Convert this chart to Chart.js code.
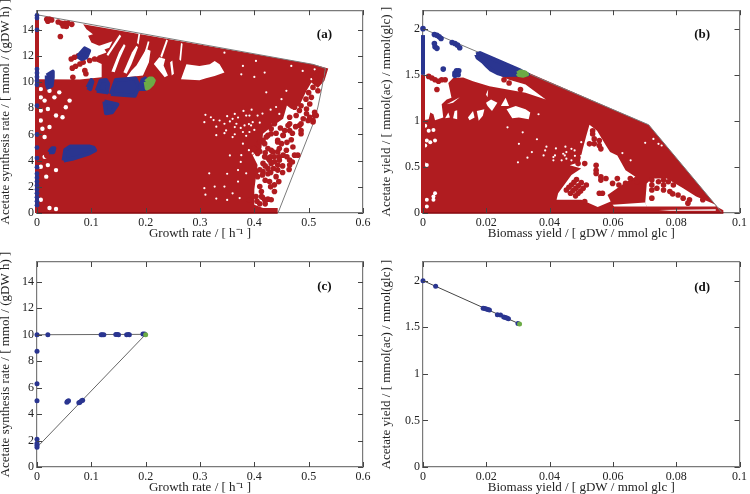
<!DOCTYPE html>
<html>
<head>
<meta charset="utf-8">
<style>
  body { margin: 0; background: #fff; }
  canvas { position: absolute; }
</style>
<script src="https://cdn.jsdelivr.net/npm/chart.js@4"></script>
</head>
<body>
<canvas id="a" width="375" height="247" style="left:0;top:0"></canvas>
<canvas id="b" width="375" height="247" style="left:375px;top:0"></canvas>
<canvas id="c" width="375" height="247" style="left:0;top:247px"></canvas>
<canvas id="d" width="375" height="247" style="left:375px;top:247px"></canvas>
<script>
// tick labels
const rateTicksX = [0, 0.1, 0.2, 0.3, 0.4, 0.5, 0.6];
const rateTicksY = [0, 2, 4, 6, 8, 10, 12, 14];
const yieldTicksX = [0, 0.02, 0.04, 0.06, 0.08, 0.1];
const yieldTicksY = [0, 0.5, 1, 1.5, 2];

// panel (a): growth rate vs acetate synthesis rate
const aEnvelope = [[0,15.15],[.508,11.36],[.531,11.05],[.523,9.3],[.517,8.1],[.508,6.8],[.4435,0]];
const aMass = [[0,0],[0,10.23],[.079,10.2],[.119,10.38],[.119,11.39],[.106,11.64],[.112,12.02],[.128,12.27],[.122,12.65],[.1,13.03],[.094,13.54],[.103,13.66],[.091,14.04],[.085,14.42],[.508,11.36],[.536,11.04],[.529,10.1],[.517,9.55],[.505,9.97],[.496,9.34],[.483,8.21],[.468,7.95],[.46,8.21],[.453,7.2],[.431,6.57],[.416,6.06],[.413,4.93],[.397,4.42],[.406,3.66],[.403,2.78],[.4,1.77],[.4,.63],[.416,.38],[.443,.38],[.443,0]];
const aHoles = [
  [[.151,12.28],[.16,12.91],[.163,12.78],[.152,11.77],[.143,10.76],[.137,10.81]],
  [[.175,12.28],[.183,12.78],[.186,12.66],[.174,11.39],[.165,10.64],[.159,10.76]],
  [[.183,11.27],[.201,12.53],[.209,12.4],[.206,11.52],[.195,10.51],[.165,10.38],[.174,10.89]],
  [[.215,11.39],[.225,11.9],[.236,11.77],[.233,11.27],[.241,10.51],[.235,10.38]],
  [[.245,11.52],[.249,11.65],[.252,10.64],[.248,10.51]],
  [[.265,10.23],[.275,11.36],[.299,11.24],[.318,11.36],[.327,11.62],[.336,11.36],[.345,10.73],[.327,10.48],[.311,10.3],[.299,10.15]],
  [[.187,13.76],[.19,13.71],[.187,12.88],[.184,13]],
  [[.204,13.13],[.207,13.08],[.2,12],[.197,12.12]],
  [[.265,13],[.268,12.93],[.265,11.62],[.262,11.74]],
  [[.238,13.26],[.241,13.18],[.23,11.87],[.227,12]],
  [[.112,12.75],[.139,13.13],[.133,12.63],[.115,12.37]],
  [[.152,13.64],[.155,13.51],[.131,12],[.128,12.12]]
];
const aLeftGaps = [[.007,9.47],[.007,8.84],[.023,9.34],[.014,8.59],[.032,8.84],[.041,9.22],[.06,8.59],[.053,8.08],[.02,7.95],[.035,7.45],[.007,7.83],[.047,7.32],[.007,7.07],[.01,6.44],[.023,6.57],[.014,5.81],[.007,3.54],[.02,3.66],[.014,4.29],[.035,3.28],[.023,.38],[.035,.3],[.007,1.01],[.017,2.78]];
const aGaps = [[.32,7.32],[.308,6.94],[.336,7.07],[.345,6.82],[.348,6.31],[.364,7.57],[.367,6.82],[.391,7.45],[.397,6.94],[.382,6.69],[.391,6.19],[.406,7.45],[.459,9.34],[.422,9.22],[.379,11.24],[.403,11.62],[.419,10.73],[.376,10.6],[.4,10.4],[.511,10.98],[.505,10.23],[.468,11.24],[.489,10.86],[.446,7.57],[.434,6.82],[.345,12.25],
  [.36,7.2],[.364,6.57],[.385,7.45],[.394,6.69],[.379,6.19],[.376,4.42],[.317,3.03],[.308,1.9],[.327,2.02],[.345,2.02],[.373,1.14],[.37,3.28],[.385,3.03],[.397,4.55],[.379,5.3],[.364,6.02],
  [.31,7.5],[.325,7.1],[.33,6.6],[.35,7.4],[.355,7],[.37,7.3],[.375,6.5],[.39,6.8],[.345,6.1],[.36,5.8],[.33,5.95],[.385,5.9],[.41,6.9],[.4,6.35],[.415,7.6],[.44,8.1],[.45,8.7],[.43,7.9],[.395,7.9],[.38,7.8],[.35,1],[.36,1.5],[.33,1.1],[.31,1.4],[.37,2.4],[.35,3],[.375,3.9],[.39,4.8],[.355,4.4]];
const aRedDots = [[.018,14.8],[.023,14.8],[.027,14.75],[.02,14.65],[.039,14.6],[.045,14.5],[.051,14.5],[.057,14.5],[.064,14.42],[.048,14.3],[.054,14.25],[.043,13.49],
  [.065,11.07],[.071,11.22],[.079,11.39],[.085,11.52],[.063,11.77],[.069,11.9],[.076,12.02],[.088,10.89],[.09,10.64],[.097,11.65],[.106,11.77],[.066,10.38],[.018,4.4],
  [.517,10.6],[.523,10.48],[.511,10.35],[.514,9.97],[.508,9.6],[.517,9.34],[.505,8.84],[.502,8.33],[.496,7.95],[.511,7.7],[.514,7.45],[.508,7.07],[.499,7.07],[.486,8.2],[.483,7.83],[.474,8.08],[.465,7.32],[.462,6.69],[.465,6.31],[.453,5.93],[.443,5.55],[.431,6.44],[.437,6.82],[.425,5.93],[.416,5.55],[.486,6.82],[.486,6.06],
  [.511,7.45],[.502,7.32],[.508,6.95],[.486,6.31],[.483,6.69],[.496,7.58],[.477,7.45],[.465,6.82],[.453,5.94],[.443,5.43],[.431,6.06],[.422,5.81],[.431,4.8],[.419,5.3],[.41,5.43],[.4,4.93],[.406,4.55],[.419,4.29],[.434,4.67],[.446,4.93],[.459,4.8],[.471,5.05],[.474,4.42],[.48,4.42],[.465,4.04],[.465,3.66],[.464,3.33],[.446,4.29],[.443,3.66],[.443,3.28],[.44,2.78],[.437,2.15],[.437,1.64],[.431,1.01],[.419,1.01],[.403,1.26],[.391,1.01],[.41,2.02],[.413,1.64],[.406,2.78],[.403,3.16],[.416,3.79],[.428,4.04],[.416,3.16],
  [.425,4.93],[.437,4.29],[.431,3.79],[.425,3.41],[.437,3.92],[.446,4.04],[.453,4.42],[.443,4.67],[.413,1.26],[.425,1.06],
  [.41,4.7],[.42,4.6],[.425,4.2],[.43,4.3],[.42,3.6],[.425,3],[.43,3.1],[.435,3.4],[.42,2.5],[.428,2.4],[.43,2],[.415,2.9],[.41,3.3],[.415,1.2],[.405,.9],[.41,.7],[.42,.7],[.45,5.3],[.46,5.4],[.468,5.6],[.44,6.1],[.448,6.5],[.456,6.3],[.47,6.1],[.476,6.6],[.49,7.2],[.495,8.7],[.5,9.2],[.47,3.9],[.452,3.6],[.452,3.1],[.445,2.4],[.46,4.3]];
const aBlueBlobs = [
  [[.075,11.97],[.088,12.58],[.096,12.4],[.091,11.9],[.082,11.77]],
  [[.018,10.51],[.029,10.8],[.029,10.38],[.027,9.73],[.02,9.6],[.018,9.88]],
  [[.093,9.6],[.1,10.16],[.102,10.03],[.098,9.47]],
  [[.11,9.35],[.117,10.11],[.127,10.16],[.131,9.88],[.129,9.22]],
  [[.136,9.09],[.145,10.16],[.181,10.28],[.184,10.03],[.187,9.63],[.18,8.97]],
  [[.188,9.47],[.194,10.16],[.199,10.28],[.199,9.47]],
  [[.124,8.52],[.148,8.3],[.138,7.7],[.127,7.63]],
  [[.049,4.01],[.052,4.82],[.061,5.08],[.096,5.08],[.104,5],[.107,4.8],[.094,4.52],[.065,4.14]],
  [[.022,4.65],[.028,4.95],[.032,4.95],[.03,4.65]]
];
const aBlueColumn = [15.1,14.9,14,11,10.7,10.4,10.1,9.8,8.2,6,5,4.2,3.5,3,2.7,2.4,2.1,1.8,1.5,1.2,.9,.6];
const aGreen = [[.2,10.03],[.207,10.28],[.212,10.28],[.215,10.13],[.212,9.85],[.206,9.6],[.202,9.52]];

// panel (b): biomass yield vs acetate yield
const bEnvelope = [[0,2],[.0713,.957],[.093,.064],[.0945,0]];
const bMass = [[0,0],[0,1.007],[.0002,1.007],[.0018,1.018],[.0023,1.089],[.0033,1.071],[.0038,1.007],[.0064,1.036],[.0059,1.179],[.0075,1.232],[.009,1.25],[.008,1.411],[.0095,1.464],[.0127,1.471],[.0158,1.429],[.021,1.375],[.0324,1.304],[.0388,1.232],[.0324,1.393],[.0272,1.446],[.0241,1.493],[.0339,1.514],[.0713,.957],[.093,.064],[.0949,.029],[.0949,0]];
const bHoles = [
  [[.007,1.029],[.008,1.089],[.0085,1.036]],
  [[.0095,1.029],[.01,1.107],[.0108,1.114],[.0108,1.018]],
  [[.0142,1.036],[.0158,1.107],[.0163,1.036],[.0147,1.007]],
  [[.017,1.107],[.0194,1.125],[.0189,1.054],[.0176,1]],
  [[.0199,1.196],[.0215,1.232],[.0235,1.196],[.0218,1.107],[.0204,1.161]],
  [[.0246,1.161],[.0261,1.25],[.0272,1.161]],
  [[.0264,1.125],[.0293,1.161],[.0324,1.125],[.0339,1.089],[.0334,1.018],[.0303,1.036],[.0282,1.029]],
  [[.0199,1.286],[.0206,1.339],[.0204,1.257]],
  [[.0075,1.179],[.0116,1.257],[.0095,1.196]],
  [[.0526,.957],[.055,.893],[.0578,.732],[.0591,.661],[.0614,.625],[.064,.464],[.0671,.393],[.0635,.321],[.0583,.196],[.0593,.125],[.0552,.064],[.05,.143],[.0422,.143],[.0427,.214],[.0469,.411],[.05,.482],[.0464,.518],[.0495,.554],[.0505,.696],[.0516,.839]],
  [[.0702,.107],[.0707,.321],[.0723,.375],[.077,.375],[.0822,.268],[.0863,.179],[.0925,.089],[.0925,.071],[.0707,.071]],
  [[.0599,.089],[.0702,.114],[.0707,.071],[.0604,.071]],
  [[.0745,.032],[.0925,.04],[.0925,.025],[.078,.025]]
];
const bLeftGaps = [[.0007,.946],[.0018,.893],[.0033,.9],[.0012,.786],[.0038,.786],[.0023,.768],[.0007,.732],[.0002,.536],[.0012,.52],[.0012,.143],[.0033,.179],[.0038,.214],[.0033,.143],[.0012,.071]];
const bGaps = [[.0412,.607],[.0448,.625],[.0479,.679],[.05,.768],[.0469,.571],[.0386,.679],[.0344,.661],[.0303,.75],[.0315,.875],[.0267,.929],[.0365,1.071],
  [.0417,.625],[.0412,.571],[.0443,.643],[.0438,.571],[.0453,.661],[.0453,.589],[.0469,.696],[.0381,.625],[.0656,.571],[.063,.65],[.0702,.761],[.0728,.804],[.0744,.75],[.0754,.732],
  [.036,.8],[.039,.72],[.042,.7],[.045,.72],[.033,.6],[.03,.55],[.048,.62],[.05,.62]];
const bRedDots = [[.0018,1.482],[.0028,1.464],[.0038,1.446],[.0049,1.429],[.0059,1.446],[.007,1.446],[.0044,1.339],[.0272,1.411],[.0308,1.339],[.0256,1.446],
  [.0536,.893],[.0536,.857],[.0541,.804],[.0557,.786],[.0557,.732],[.0541,.75],[.0526,.75],[.0562,.696],[.0547,.518],[.0547,.464],[.0547,.429],[.0562,.393],[.0562,.357],[.0578,.375],[.0614,.375],[.0599,.321],[.0619,.304],[.064,.321],[.0655,.375],[.0676,.339],[.049,.536],[.0511,.536],[.0557,.214],[.0567,.214],[.0511,.125],
  [.0453,.25],[.0461,.279],[.0469,.304],[.0477,.332],[.0485,.364],[.0466,.214],[.0474,.243],[.0483,.268],[.0491,.296],[.05,.329],[.0482,.186],[.049,.214],[.0498,.239],[.0506,.268],[.0516,.304],
  [.0723,.357],[.0723,.304],[.0723,.25],[.0723,.161],[.0739,.268],[.0744,.339],[.076,.357],[.076,.25],[.0775,.339],[.0791,.304],[.078,.232],[.0789,.207],[.0806,.196],[.0822,.161],[.0842,.143],[.0837,.107],[.076,.304],[.0884,.143]];
const bBlueDots = [[0,2],[.0036,1.936],[.0044,1.929],[.0051,1.911],[.0057,1.893],[.0036,1.839],[.0038,1.804],[.0044,1.786],[.0092,1.85],[.0101,1.839],[.0109,1.821],[.0116,1.793],[.0064,1.561],[.0101,1.518],[.0106,1.543],[.0113,1.543],[.0101,1.493],[.0111,1.5]];
const bBlueWedge = [[.0168,1.721],[.018,1.735],[.0308,1.544],[.0332,1.503],[.0256,1.496],[.0235,1.518],[.0215,1.554],[.0204,1.589],[.0189,1.643],[.0172,1.686]];
const bBlueColumn = [[0,1.5],[0,1.93]];
const bRedColumn = [[0,0],[0,1.5]];
const bGreen = [[.0298,1.514],[.0308,1.536],[.0323,1.525],[.0329,1.503],[.0316,1.489],[.0303,1.496]];

// panel (c)
const cOutline = [[0,10],[.2,10.03],[.005,1.7],[0,1.5]];
const cBlue = [[0,10],[0,8.75],[0,6.3],[0,5],[0,2.1],[0,1.8],[0,1.65],[0,1.5],[.02,10],[.118,10],[.12,10],[.123,10],[.145,10.02],[.148,10.02],[.15,10],[.165,10],[.168,10.02],[.17,10],[.195,10.05],[.198,10.05],[.055,4.9],[.056,4.95],[.058,5],[.077,4.85],[.079,4.9],[.082,5],[.084,5.05]];
const cGreen = [[.2,10]];

// panel (d)
const dOutline = [[0,2],[.0305,1.535]];
const dBlue = [[0,2],[.004,1.94],[.019,1.705],[.0195,1.7],[.02,1.695],[.0205,1.69],[.021,1.685],[.0235,1.635],[.0245,1.63],[.0255,1.61],[.026,1.605],[.0265,1.6],[.027,1.59],[.03,1.54]];
const dGreen = [[.0305,1.535]];

const RED = '#b01c20', DARKRED = '#8b0a10', BLUE = '#2a3590', GREEN = '#6cab46', GREY = '#7a7a7a';
const SERIF = '"Liberation Serif", serif';
const TICK_LEN = 5;

const xy = pts => pts.map(p => ({ x: p[0], y: p[1] }));
const area = (pts, color, round = 0) => ({ data: xy(round ? [...pts, pts[0]] : pts), showLine: true, fill: 'shape', backgroundColor: color, borderColor: color, borderWidth: round, borderJoinStyle: 'round', pointRadius: 0 });
const dots = (pts, color, r = 2.8) => ({ data: xy(pts), showLine: false, clip: false, pointRadius: r, pointBorderWidth: 0, pointBackgroundColor: color });
const path = (pts, color, w = 1) => ({ data: xy(pts), showLine: true, clip: false, fill: false, borderColor: color, borderWidth: w, pointRadius: 0 });

// later entries paint on top
function layered(list) {
  list.forEach((d, i) => { d.order = -i; });
  return list;
}

function axis(min, max, ticks, position, size, title, labelled, padding) {
  return {
    type: 'linear', position, min, max,
    afterBuildTicks: s => { s.ticks = ticks.map(v => ({ value: v })); },
    afterFit: s => { if (position === 'left' || position === 'right') s.width = size; else s.height = size; },
    border: { color: GREY, width: 1.2 },
    grid: { drawOnChartArea: false, drawTicks: false },
    title: title ? { display: true, text: title, font: { family: SERIF, size: 13, lineHeight: 1 }, color: '#222', padding } : { display: false },
    ticks: {
      display: labelled, autoSkip: false, maxRotation: 0, color: '#222', padding: 3,
      font: { family: SERIF, size: 12 }, callback: v => String(v)
    }
  };
}

// inward tick marks on all four sides, on top of the marks
const innerTicks = {
  id: 'innerTicks',
  afterDatasetsDraw(chart) {
    const { ctx, scales, chartArea: box } = chart;
    ctx.save();
    ctx.strokeStyle = '#444';
    ctx.lineWidth = 1;
    ctx.beginPath();
    scales.x.ticks.forEach(t => {
      const px = Math.round(scales.x.getPixelForValue(t.value)) + 0.5;
      ctx.moveTo(px, box.bottom); ctx.lineTo(px, box.bottom - TICK_LEN);
      ctx.moveTo(px, box.top); ctx.lineTo(px, box.top + TICK_LEN);
    });
    scales.y.ticks.forEach(t => {
      const py = Math.round(scales.y.getPixelForValue(t.value)) + 0.5;
      ctx.moveTo(box.left, py); ctx.lineTo(box.left + TICK_LEN, py);
      ctx.moveTo(box.right, py); ctx.lineTo(box.right - TICK_LEN, py);
    });
    ctx.stroke();
    ctx.restore();
  }
};

const panelLabel = {
  id: 'panelLabel',
  afterDatasetsDraw(chart, args, o) {
    const { ctx, scales } = chart;
    ctx.save();
    ctx.font = 'bold 13px ' + SERIF;
    ctx.fillStyle = '#111';
    ctx.textAlign = 'center';
    ctx.textBaseline = 'middle';
    ctx.fillText(o.text, scales.x.getPixelForValue(o.x), scales.y.getPixelForValue(o.y));
    ctx.restore();
  }
};

function panel(id, spec) {
  new Chart(document.getElementById(id), {
    type: 'scatter',
    data: { datasets: layered(spec.layers) },
    plugins: [innerTicks, panelLabel],
    options: {
      responsive: false, animation: false, events: [],
      layout: { padding: 0 },
      plugins: { legend: { display: false }, tooltip: { enabled: false }, panelLabel: spec.label },
      scales: {
        x: axis(0, spec.xMax, spec.xTicks, 'bottom', spec.bottom, spec.xTitle, true, { top: 0, bottom: spec.xPad }),
        y: axis(0, spec.yMax, spec.yTicks, 'left', spec.left, spec.yTitle, true, { top: spec.yPad, bottom: 0 }),
        x2: axis(0, spec.xMax, spec.xTicks, 'top', spec.top, null, false),
        y2: axis(0, spec.yMax, spec.yTicks, 'right', spec.right, null, false)
      }
    }
  });
}

const rateTitleX = 'Growth rate / [ h\u207B\u00B9 ]';
const rateTitleY = 'Acetate synthesis rate / [ mmol / (gDW h) ]';
const yieldTitleX = 'Biomass yield / [ gDW / mmol glc ]';
const yieldTitleY = 'Acetate yield / [ mmol(ac) / mmol(glc) ]';

const rateAxes = { xMax: 0.6, yMax: 15.5, xTicks: rateTicksX, yTicks: rateTicksY, xTitle: rateTitleX, yTitle: rateTitleY, left: 37, right: 12, yPad: -1 };
const yieldAxes = { xMax: 0.1, yMax: 2.2, xTicks: yieldTicksX, yTicks: yieldTicksY, xTitle: yieldTitleX, yTitle: yieldTitleY, left: 48, right: 6, yPad: 5 };
const upper = { top: 8, bottom: 34, xPad: 7 };
const lower = { top: 15, bottom: 27, xPad: 0 };

panel('a', { ...rateAxes, ...upper, label: { text: '(a)', x: 0.529, y: 13.66 }, layers: [
  area(aMass, RED),
  ...aHoles.map(h => area(h, '#fff')),
  dots(aLeftGaps, '#fff', 2.2),
  dots(aGaps, '#fff', 1.1),
  path(aEnvelope, GREY),
  dots(aRedDots, RED),
  path([[0, 0], [0, 15]], RED, 4),
  path([[0, 0], [0.443, 0]], DARKRED, 1.5),
  ...aBlueBlobs.map(b => area(b, BLUE, 4)),
  dots(aBlueColumn.map(v => [0, v]), BLUE, 2.4),
  area(aGreen, GREEN, 4)
] });

panel('b', { ...yieldAxes, ...upper, label: { text: '(b)', x: 0.0882, y: 1.93 }, layers: [
  area(bMass, RED),
  ...bHoles.map(h => area(h, '#fff')),
  dots(bLeftGaps, '#fff', 2),
  dots(bGaps, '#fff', 1.1),
  path(bEnvelope, GREY),
  dots(bRedDots, RED),
  path(bRedColumn, RED, 4),
  path([[0, 0], [0.0949, 0]], DARKRED, 1.5),
  area(bBlueWedge, BLUE, 4),
  dots(bBlueDots, BLUE),
  path(bBlueColumn, BLUE, 4),
  area(bGreen, GREEN, 4)
] });

panel('c', { ...rateAxes, ...lower, label: { text: '(c)', x: 0.529, y: 13.66 }, layers: [
  path(cOutline, '#666'),
  dots(cBlue, BLUE, 2.5),
  dots(cGreen, GREEN, 2.5)
] });

panel('d', { ...yieldAxes, ...lower, label: { text: '(d)', x: 0.0882, y: 1.93 }, layers: [
  path(dOutline, '#444'),
  dots(dBlue, BLUE, 2.5),
  dots(dGreen, GREEN, 2.5)
] });
</script>
</body>
</html>
